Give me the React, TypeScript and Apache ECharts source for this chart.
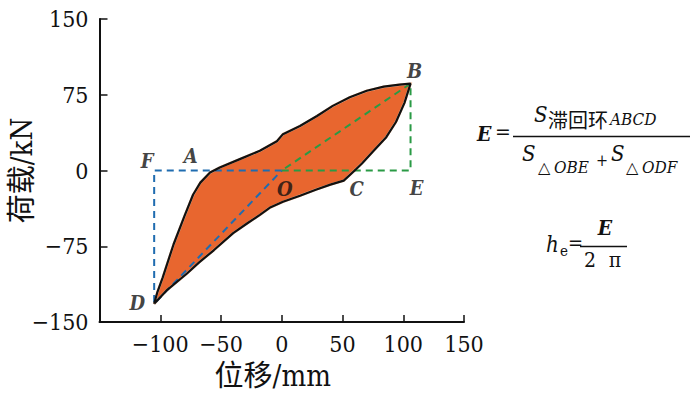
import React, { useEffect, useRef } from 'react';
import * as echarts from 'echarts';

// Loading branch D -> A -> B (displacement mm, load kN)
const loadingX = [-105, -102.5, -98, -89, -80, -73, -67, -59, -51, -34, -18, -4, 1, 15, 29, 42, 56, 70, 84, 97, 106];
const loadingY = [-132, -121, -106, -73, -45, -24, -12, -2, 3, 11.5, 19.5, 29, 36, 44, 54, 64, 72.5, 79, 83, 85, 86];
// Unloading branch B -> C -> D
const unloadingX = [106, 101, 94, 86, 76, 66, 60, 51, 40, 28, 15, 1, -10, -18, -28, -40, -56, -68, -78, -95, -105];
const unloadingY = [86, 67, 48, 33, 20, 7, 0, -10, -14, -19, -25, -31, -37, -44, -52, -62, -79, -91, -102, -119, -132];

// Key points of the loop
const keyNames = ['A', 'B', 'C', 'D', 'E', 'F', 'O'];
const keyX = [-60, 106, 60, -105, 106, -105, 0];
const keyY = [0, 86, 0, -132, 0, 0, 0];

const xMin = -150, xMax = 150, xStep = 50;
const yMin = -150, yMax = 150, yStep = 75;

const SERIF = 'DejaVu Serif Condensed, DejaVu Serif, serif';
const CJK = 'DejaVu Serif Condensed, DejaVu Serif, Noto Sans CJK SC, sans-serif';

const kp = (n: string): [number, number] => {
  const i = keyNames.indexOf(n);
  return [keyX[i], keyY[i]];
};

const labelOffsets: Record<string, [number, number]> = {
  A: [-18, -15], B: [4, -13], C: [2, 18], D: [-17, -1], E: [6, 17], F: [-7, -10], O: [3, 18],
};

const fmt = (v: number) => (v < 0 ? '\u2212' + Math.abs(v) : String(v));

export default function App() {
  const ref = useRef<HTMLDivElement>(null);
  useEffect(() => {
    if (!ref.current) return;
    const chart = echarts.init(ref.current, undefined, { renderer: 'svg' });
    const loop: [number, number][] = [];
    loadingX.forEach((x, i) => loop.push([x, loadingY[i]]));
    unloadingX.forEach((x, i) => { if (i > 0) loop.push([x, unloadingY[i]]); });
    const closedLoop = [...loop, loop[0]];
    const blueTri = [kp('O'), kp('F'), kp('D'), kp('O')];
    const greenTri = [kp('O'), kp('E'), kp('B'), kp('O')];

    const txt = (x: number, y: number, text: string, size: number, opts: any = {}) => ({
      type: 'text', x, y, silent: true,
      style: {
        text, fontSize: size, fontFamily: opts.family || SERIF,
        fontStyle: opts.italic ? 'italic' : 'normal', fontWeight: opts.bold ? 'bold' : 'normal',
        fill: '#111', textAlign: opts.align || 'left', align: opts.align || 'left',
        textVerticalAlign: 'middle', verticalAlign: 'middle',
      },
    });

    chart.setOption({
      animation: false,
      backgroundColor: '#fff',
      grid: { left: 99.5, right: 236, top: 19, bottom: 73, containLabel: false, outerBoundsMode: 'none' },
      xAxis: {
        type: 'value', min: xMin, max: xMax, interval: xStep,
        name: '位移/mm', nameLocation: 'middle', nameGap: 39, nameMoveOverlap: false,
        nameTextStyle: { fontSize: 29, fontFamily: CJK, color: '#111', padding: [0, 18, 0, 0] },
        axisLine: { onZero: false, lineStyle: { color: '#111', width: 2 } },
        axisTick: { inside: true, length: 7, lineStyle: { color: '#111', width: 1.5 } },
        axisLabel: {
          margin: 10, fontSize: 23, fontFamily: SERIF, color: '#111',
          formatter: (v: number) => (v === xMin ? '' : fmt(v)),
        },
        splitLine: { show: false },
      },
      yAxis: {
        type: 'value', min: yMin, max: yMax, interval: yStep,
        name: '荷载/kN', nameLocation: 'middle', nameGap: 63, nameRotate: 90, nameMoveOverlap: false,
        nameTextStyle: { fontSize: 29, fontFamily: CJK, color: '#111' },
        axisLine: { show: true, onZero: false, lineStyle: { color: '#111', width: 2 } },
        axisTick: { show: true, inside: true, length: 8, lineStyle: { color: '#111', width: 1.5 } },
        axisLabel: { margin: 11, fontSize: 23, fontFamily: SERIF, color: '#111', formatter: fmt },
        splitLine: { show: false },
      },
      series: [
        {
          type: 'custom', z: 1,
          data: loop,
          encode: { x: 0, y: 1 },
          renderItem: (params: any, api: any) => {
            if (params.dataIndex !== 0) return null;
            const pts = loop.map((p) => api.coord(p));
            return { type: 'polygon', shape: { points: pts }, style: { fill: '#E8662F', stroke: '#F6C7A8', lineWidth: 2.5 } };
          },
        },
        {
          type: 'line', z: 3, data: blueTri, symbol: 'none',
          lineStyle: { color: '#1F6CB0', width: 2, type: [7, 5] },
        },
        {
          type: 'line', z: 3, data: greenTri, symbol: 'none',
          lineStyle: { color: '#2A9A45', width: 2, type: [7, 5] },
        },
        {
          type: 'line', z: 4, data: closedLoop, symbol: 'none',
          lineStyle: { color: '#111', width: 2.2 },
        },
        {
          type: 'scatter', z: 5, symbolSize: 0,
          data: keyNames.map((n, i) => ({
            name: n, value: [keyX[i], keyY[i]],
            label: { offset: labelOffsets[n] },
          })),
          label: {
            show: true, position: 'inside', formatter: '{b}',
            fontSize: 20, fontStyle: 'italic', fontWeight: 'bold', fontFamily: SERIF, color: '#111',
          },
        },
      ],
      graphic: [
        txt(477, 133, 'E', 21, { italic: true, bold: true }),
        txt(495, 132, '=', 21),
        { type: 'line', silent: true, shape: { x1: 513, y1: 136.5, x2: 690, y2: 136.5 }, style: { stroke: '#111', lineWidth: 1.5 } },
        txt(534, 114, 'S', 22, { italic: true }),
        txt(548, 119, '滞回环', 20, { family: 'Noto Sans CJK SC' }),
        txt(610, 119, 'ABCD', 17, { italic: true }),
        txt(522, 153.5, 'S', 22, { italic: true }),
        txt(538, 167, '\u25B3', 16, { family: 'DejaVu Sans' }),
        txt(554, 167, 'OBE', 17, { italic: true }),
        txt(596, 160, '+', 16),
        txt(611, 153.5, 'S', 22, { italic: true }),
        txt(626, 167, '\u25B3', 16, { family: 'DejaVu Sans' }),
        txt(642, 167, 'ODF', 17, { italic: true }),
        txt(546, 244, 'h', 22, { italic: true }),
        txt(560, 251, 'e', 15),
        txt(568, 243, '=', 20),
        txt(605, 227.5, 'E', 21, { italic: true, bold: true, align: 'center' }),
        { type: 'line', silent: true, shape: { x1: 580, y1: 246.5, x2: 627, y2: 246.5 }, style: { stroke: '#111', lineWidth: 1.5 } },
        txt(590, 259.5, '2', 21, { align: 'center' }),
        txt(615, 259.5, '\u03C0', 21, { align: 'center' }),
      ],
    });
    return () => chart.dispose();
  }, []);
  return <div ref={ref} style={{ position: 'fixed', left: 0, top: 0, width: 700, height: 395 }} />;
}
